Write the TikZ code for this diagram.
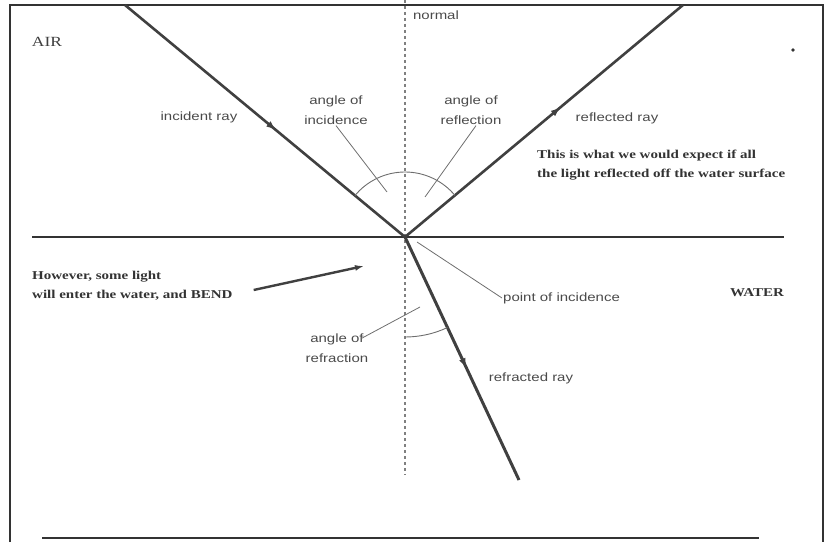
\documentclass[tikz,border=0pt]{standalone}
\usepackage{fontspec}
\newfontfamily\lblfont[FakeStretch=1.25]{Liberation Sans}
\newfontfamily\notefont[FakeStretch=1.25]{Liberation Serif}
\usetikzlibrary{arrows.meta,decorations.markings,positioning}
\definecolor{raygray}{HTML}{404040}
\definecolor{lblgray}{HTML}{4A4A4A}
\definecolor{framegray}{HTML}{333333}

\begin{document}
\begin{tikzpicture}[x=1pt,y=1pt,
  frame/.style={draw=framegray,line width=2.8pt},
  ray/.style={draw=raygray,line width=2.6pt},
  midarrow/.style={postaction={decorate},
    decoration={markings,mark=at position #1 with {\arrow{Latex[length=10pt,width=7pt]}}}},
  lbl/.style={font=\lblfont\fontsize{12}{20}\selectfont,text=lblgray,align=center,inner sep=1pt},
  note/.style={font=\notefont\bfseries\fontsize{12}{19}\selectfont,text=framegray,align=left,inner sep=1pt},
  leader/.style={draw=lblgray!80,line width=0.8pt},
  anglearc/.style={draw=lblgray!80,line width=0.9pt},
  normalline/.style={draw=lblgray!70,line width=1.2pt,dash pattern=on 3pt off 3pt}]
  \useasboundingbox (0,0) rectangle (830,542);
  \draw[frame] (10,0) -- (10,537) -- (823,537) -- (823,0);
  \draw[frame] (42,4) -- (759,4);
  \fill[framegray] (793,492) circle (1.8pt);

  \coordinate (P) at (405,305);
  \coordinate (I) at (125,537);
  \coordinate (R) at (683,537);
  \coordinate (T) at (519,62);
  \coordinate (sl) at (32,305);
  \coordinate (sr) at (784,305);
  \coordinate (ntop) at (405,542);
  \coordinate (nbot) at (405,67);

  \draw[normalline] (ntop) -- (nbot);
  \draw[frame] (sl) -- (sr);
  \draw[ray,midarrow=0.54] (I) -- (P);
  \draw[ray,midarrow=0.56] (P) -- (R);
  \draw[ray,line width=3pt,midarrow=0.54] (P) -- (T);

  \draw[anglearc] ([shift={(140.4:65)}]P) arc[start angle=140.4,end angle=90,radius=65];
  \draw[anglearc] ([shift={(90:65)}]P) arc[start angle=90,end angle=39.8,radius=65];
  \draw[anglearc] ([shift={(-90:100)}]P) arc[start angle=-90,end angle=-64.9,radius=100];

  \node[note,font=\notefont\fontsize{14}{16}\selectfont,text=raygray] (air) at (47,500) {AIR};
  \node[note,font=\notefont\bfseries\fontsize{12}{14}\selectfont] (water) at (757,249) {WATER};
  \node[lbl] (normal) at (436,527) {normal};
  \node[lbl] (incray) at (199,425) {incident ray};
  \node[lbl] (refray) at (617,424) {reflected ray};
  \node[lbl] (frray) at (531,164) {refracted ray};
  \node[lbl] (aoi) at (336,432) {angle of\\incidence};
  \node[lbl] (aorl) at (471,432) {angle of\\reflection};
  \node[lbl] (aorf) at (337,194) {angle of\\refraction};
  \node[lbl,anchor=west] (poi) at (502,244) {point of incidence};
  \node[note,anchor=west] (expect) at (536,377) {This is what we would expect if all\\the light reflected off the water surface};
  \node[note,anchor=west] (bend) at (31,256) {However, some light\\will enter the water, and BEND};

  \coordinate (aoiend) at (387,350);
  \coordinate (aorlend) at (425,345);
  \coordinate (aorfend) at (420,235);
  \coordinate (poiend) at (417,300);
  \coordinate (bendtip) at (364,276);

  \draw[leader] (aoi.south) -- (aoiend);
  \draw[leader] ([xshift=5pt]aorl.south) -- (aorlend);
  \draw[leader] ([xshift=-8pt,yshift=-6pt]aorf.north east) -- (aorfend);
  \draw[leader] (poi.west) -- (poiend);
  \draw[raygray,line width=2.4pt,-{Latex[length=9pt,width=6pt]}] ([xshift=20pt,yshift=-4pt]bend.east) -- (bendtip);
\end{tikzpicture}
\end{document}
